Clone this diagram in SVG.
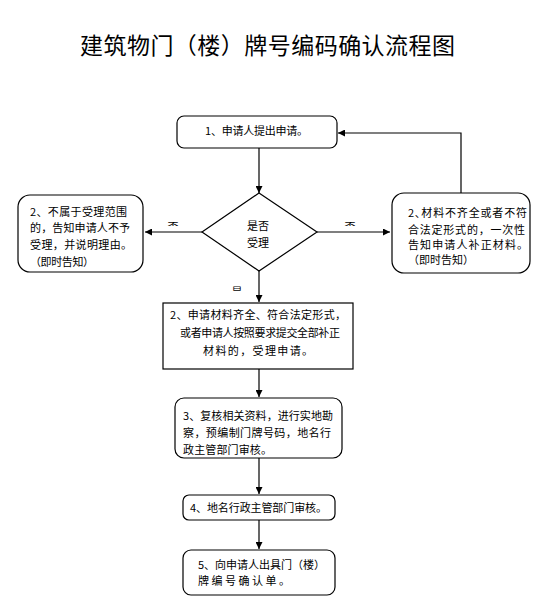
<svg xmlns="http://www.w3.org/2000/svg" width="551" height="603" viewBox="0 0 551 603">
<style>
.box{fill:#fff;stroke:#000;stroke-width:1.2}
.t{font-family:"Noto Sans CJK SC","Liberation Serif",serif;font-size:11px;fill:#000}
.c{text-anchor:middle}
.ln{stroke:#000;stroke-width:1.2;fill:none}
.title{font-family:"Noto Sans CJK SC","Liberation Sans",sans-serif;font-size:23px;fill:#000}
</style>
<defs>
<marker id="ah" viewBox="0 0 10 10" refX="10" refY="5" markerWidth="7" markerHeight="7" markerUnits="userSpaceOnUse" orient="auto">
<path d="M0,0 L10,5 L0,10 z" fill="#000"/>
</marker>
<clipPath id="cl1"><rect x="160" y="210" width="30" height="16"/></clipPath>
<clipPath id="cl2"><rect x="335" y="210" width="30" height="16"/></clipPath>
<clipPath id="cl3"><rect x="225" y="280" width="25" height="11"/></clipPath>
</defs>
<text class="title" x="80" y="54" textLength="375">建筑物门（楼）牌号编码确认流程图</text>
<g id="connectors">
<line class="ln" x1="259" y1="148" x2="259" y2="193" marker-end="url(#ah)"/>
<line class="ln" x1="202" y1="232" x2="145" y2="232" marker-end="url(#ah)"/>
<line class="ln" x1="317" y1="232" x2="390" y2="232" marker-end="url(#ah)"/>
<polyline class="ln" points="461,193 461,133 338,133" marker-end="url(#ah)"/>
<line class="ln" x1="259" y1="271" x2="259" y2="302" marker-end="url(#ah)"/>
<line class="ln" x1="259" y1="369" x2="259" y2="397" marker-end="url(#ah)"/>
<line class="ln" x1="259" y1="458" x2="259" y2="494" marker-end="url(#ah)"/>
<line class="ln" x1="259" y1="520" x2="259" y2="549" marker-end="url(#ah)"/>
<text class="t c" x="173" y="231" clip-path="url(#cl1)">否</text>
<text class="t c" x="350" y="231" clip-path="url(#cl2)">否</text>
<text class="t c" x="237" y="296" clip-path="url(#cl3)">是</text>
</g>
<g id="n1">
<rect class="box" x="177" y="116" width="160" height="32" rx="7"/>
<text class="t" x="205" y="135" textLength="103">1、申请人提出申请。</text>
</g>
<g id="n2">
<polygon class="box" points="259,193 317,232 259,271 202,232"/>
<text class="t c" x="258" y="230">是否</text>
<text class="t c" x="258" y="247">受理</text>
</g>
<g id="n3">
<rect class="box" x="18" y="195" width="125" height="77" rx="12"/>
<text class="t" x="30" y="216" textLength="97">2、不属于受理范围</text>
<text class="t" x="30" y="232" textLength="100">的，告知申请人不予</text>
<text class="t" x="30" y="249" textLength="102">受理，并说明理由。</text>
<text class="t" x="30" y="266" textLength="64">（即时告知）</text>
</g>
<g id="n4">
<rect class="box" x="392" y="193" width="138" height="80" rx="12"/>
<text class="t" x="408" y="217" textLength="119">2､材料不齐全或者不符</text>
<text class="t" x="408" y="234" textLength="117">合法定形式的，一次性</text>
<text class="t" x="408" y="249" textLength="120">告知申请人补正材料。</text>
<text class="t" x="408" y="264" textLength="66">（即时告知）</text>
</g>
<g id="n5">
<rect class="box" x="163" y="303" width="190" height="66"/>
<text class="t" x="170" y="319" textLength="176">2、申请材料齐全、符合法定形式，</text>
<text class="t" x="180" y="337" textLength="160">或者申请人按照要求提交全部补正</text>
<text class="t" x="203" y="355" textLength="110">材料的，受理申请。</text>
</g>
<g id="n6">
<rect class="box" x="175" y="398" width="167" height="60" rx="9"/>
<text class="t" x="183" y="420" textLength="150">3、复核相关资料，进行实地勘</text>
<text class="t" x="183" y="437" textLength="148">察，预编制门牌号码，地名行</text>
<text class="t" x="183" y="454" textLength="89">政主管部门审核。</text>
</g>
<g id="n7">
<rect class="box" x="183" y="495" width="152" height="25" rx="6"/>
<text class="t" x="190" y="512" textLength="137">4、地名行政主管部门审核。</text>
</g>
<g id="n8">
<rect class="box" x="183" y="550" width="152" height="45" rx="8"/>
<text class="t" x="198" y="569" textLength="127">5、向申请人出具门（楼）</text>
<text class="t" x="198" y="585" textLength="92">牌编号确认单。</text>
</g>
</svg>
